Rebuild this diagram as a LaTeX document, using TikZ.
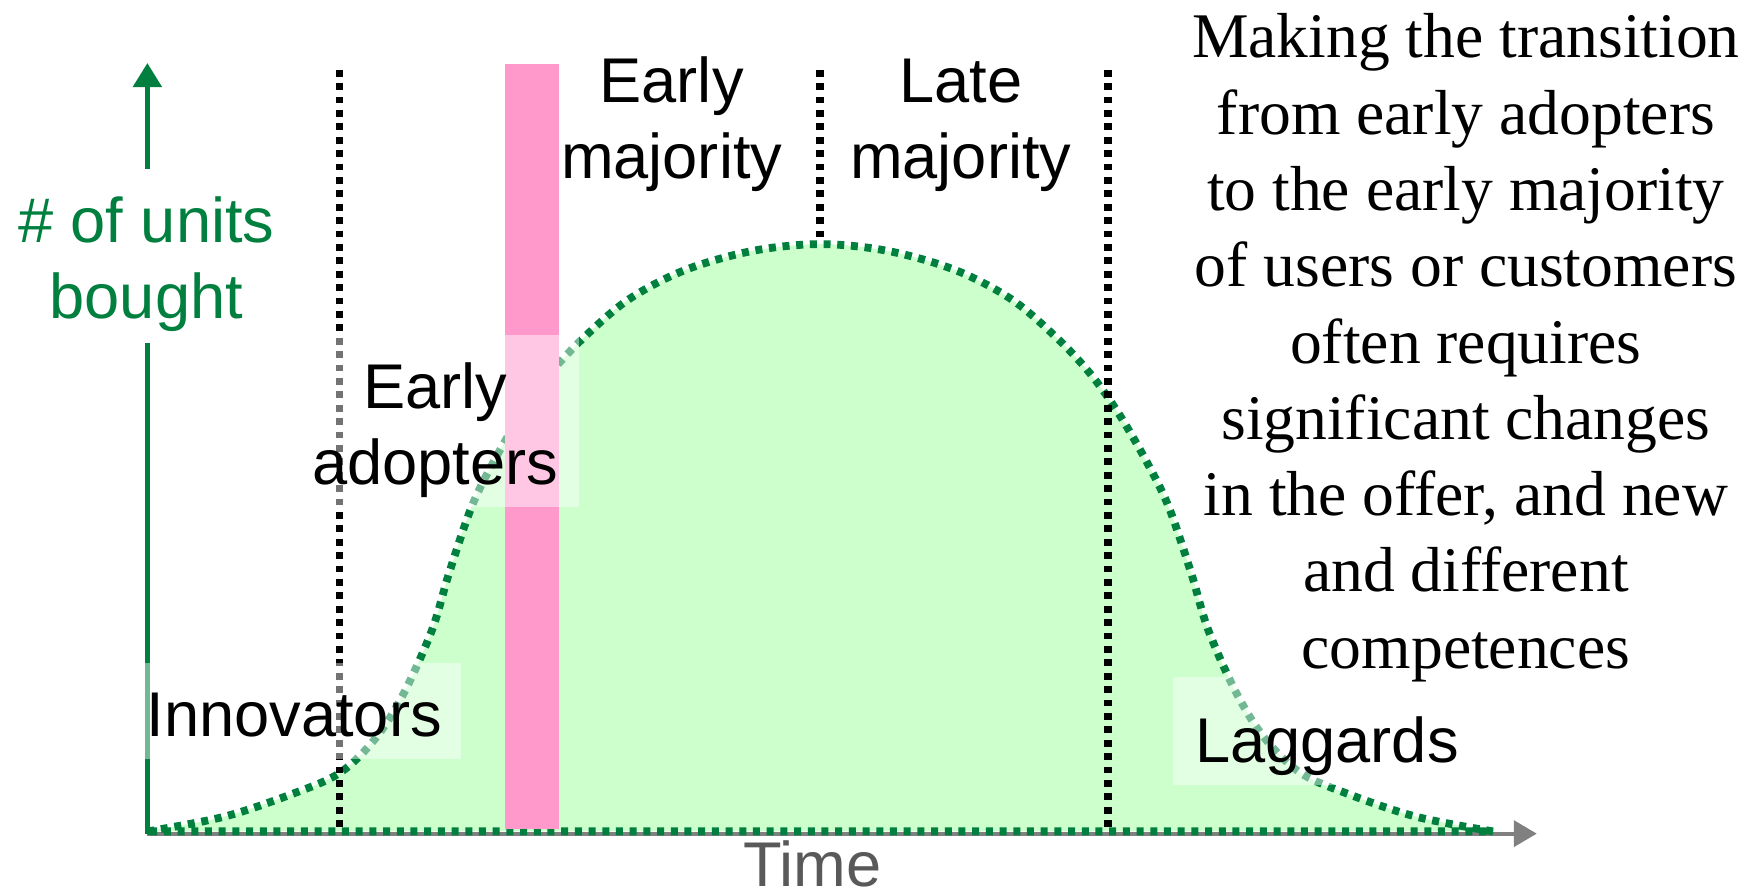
\documentclass[tikz,border=0pt]{standalone}
\usepackage{fontspec}
\setmainfont{Liberation Serif}
\newfontfamily\labelsans{Liberation Sans}
\usetikzlibrary{arrows.meta}
\definecolor{axisgreen}{HTML}{007F3F}
\definecolor{curvefill}{HTML}{CCFFCC}
\definecolor{barpink}{HTML}{FF99CC}
\definecolor{axisgray}{HTML}{808080}
\definecolor{timegray}{HTML}{595959}

\begin{document}
\begin{tikzpicture}[x=0.5625pt, y=-0.5625pt,
  phase/.style={font=\labelsans\fontsize{31.6}{38}\selectfont, align=center, inner sep=0pt, anchor=base},
  note/.style={font=\fontsize{31.8}{38.15}\selectfont, align=center, inner sep=0pt, anchor=base},
  curveline/.style={draw=axisgreen, line width=3.9pt, dash pattern=on 3.5pt off 3.35pt},
  divider/.style={draw=black, line width=3.7pt, dash pattern=on 3.4pt off 3.3pt},
  labelbox/.style={fill=white, fill opacity=0.45},
  yaxis/.style={draw=axisgreen, line width=2.6pt},
  xaxis/.style={draw=axisgray, line width=2pt},
]
\useasboundingbox (0,0) rectangle (1568,796);

% axes end points
\coordinate (O) at (131,741);
\coordinate (ylow) at (131,305);
\coordinate (yhigh) at (131,150);
\coordinate (ytop) at (131,56);
\coordinate (xend) at (1366,741);

% adoption curve area
\fill[curvefill] plot[smooth, tension=0.55] coordinates {
  (131,739) (199,726) (259,706) (302,687) (334,656) (359,616) (384,560)
  (399,510) (419,451) (439,410) (464,367) (489,332) (519,300) (559,266)
  (609,240) (669,223) (729,217) (789,223) (849,240) (899,266) (939,300)
  (969,332) (994,367) (1019,410) (1039,451) (1059,510) (1074,560)
  (1099,616) (1124,656) (1156,687) (1199,706) (1259,726) (1327,739)} -- cycle;

% time axis
\draw[xaxis, -{Triangle[length=11.5pt, width=13pt]}] (O) -- (xend);

% dotted outline of the curve and its base
\draw[curveline] plot[smooth, tension=0.55] coordinates {
  (131,739) (199,726) (259,706) (302,687) (334,656) (359,616) (384,560)
  (399,510) (419,451) (439,410) (464,367) (489,332) (519,300) (559,266)
  (609,240) (669,223) (729,217) (789,223) (849,240) (899,266) (939,300)
  (969,332) (994,367) (1019,410) (1039,451) (1059,510) (1074,560)
  (1099,616) (1124,656) (1156,687) (1199,706) (1259,726) (1327,739)} -- cycle;

% the chasm
\fill[barpink] (449,57) rectangle (497,737);

% segment dividers
\draw[divider] (302,62) -- (302,740);
\draw[divider] (729,62) -- (729,215);
\draw[divider] (985,62) -- (985,740);

% vertical axis, interrupted by its label
\draw[yaxis] (O) -- (ylow);
\draw[yaxis, -{Triangle[length=12pt, width=14pt]}] (yhigh) -- (ytop);

% translucent label backgrounds
\fill[labelbox] (262,298) rectangle (515,451);
\fill[labelbox] (127,589) rectangle (410,675);
\fill[labelbox] (1043,602) rectangle (1310,698);

% labels (anchored at the baseline of their last line)
\node[phase] (em) at (597,159) {Early\\majority};
\node[phase] (lm) at (854,159) {Late\\majority};
\node[phase] (ea) at (387,431) {Early\\adopters};
\node[phase, anchor=base west] (inn) at (130,655) {Innovators};
\node[phase, anchor=base west] (lag) at (1062,678) {Laggards};
\node[phase, text=axisgreen] (ylab) at (130,283) {\# of units\\bought};
\node[phase, text=timegray] (time) at (722,788) {Time};

\node[note] (msg) at (1303,594) {Making the transition\\from early adopters\\to the early majority\\of users or customers\\often requires\\significant changes\\in the offer, and new\\and different\\competences};
\end{tikzpicture}
\end{document}
